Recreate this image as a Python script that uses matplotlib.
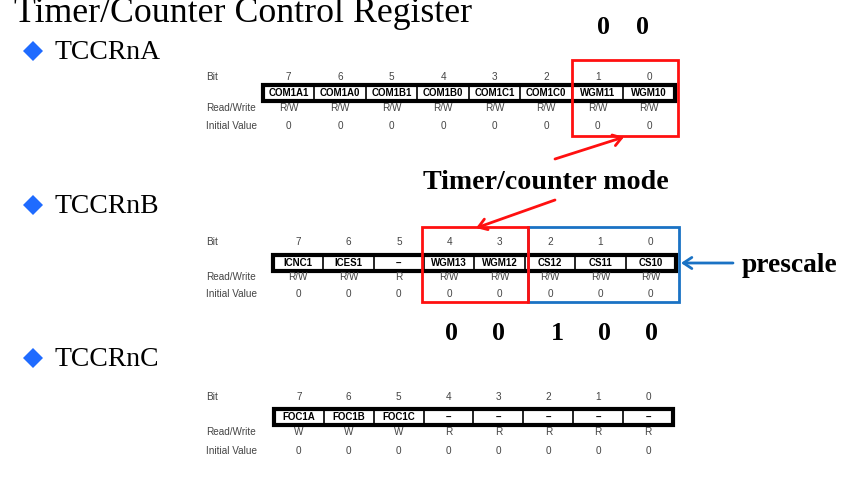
import matplotlib
matplotlib.use("Agg")
import matplotlib.pyplot as plt
from matplotlib.patches import Rectangle, FancyArrowPatch

# ---------------- data ----------------
bits = [7, 6, 5, 4, 3, 2, 1, 0]
reg_titles = ["TCCRnA", "TCCRnB", "TCCRnC"]
names_a = ["COM1A1", "COM1A0", "COM1B1", "COM1B0", "COM1C1", "COM1C0", "WGM11", "WGM10"]
names_b = ["ICNC1", "ICES1", "–", "WGM13", "WGM12", "CS12", "CS11", "CS10"]
names_c = ["FOC1A", "FOC1B", "FOC1C", "–", "–", "–", "–", "–"]
rw_a = ["R/W"] * 8
rw_b = ["R/W", "R/W", "R", "R/W", "R/W", "R/W", "R/W", "R/W"]
rw_c = ["W", "W", "W", "R", "R", "R", "R", "R"]
init_a = [0] * 8
init_b = [0] * 8
init_c = [0] * 8
wgm_a_values = ["0", "0"]          # WGM11, WGM10
b_values = ["0", "0", "1", "0", "0"]  # WGM13, WGM12, CS12, CS11, CS10
title = "Timer/Counter Control Register"
mode_label = "Timer/counter mode"
prescale_label = "prescale"

# ---------------- layout ----------------
W, H = 841, 492
fig = plt.figure(figsize=(W / 100, H / 100), dpi=100)
ax = fig.add_axes([0, 0, 1, 1])
ax.set_xlim(0, W)
ax.set_ylim(H, 0)
ax.axis("off")

def pt(px):
    return px * 0.72

SERIF = "Liberation Serif"
SANS = "Liberation Sans"
GRAY = "#444444"
RED = "#ff1010"
BLUE = "#1a72c4"
DIAMOND = "#1f6bff"

ax.text(14, 22, title, fontsize=pt(35.7), family=SERIF, ha="left", va="baseline", color="black")

def bullet(y, label):
    ax.plot([33], [y], marker="D", markersize=10, color=DIAMOND, markeredgewidth=0)
    ax.text(55, y + 8, label, fontsize=pt(27.6), family=SERIF, ha="left", va="baseline")

def register(names, rw, init, left, right, y_bit, y_top, y_bot, y_rw, y_init):
    n = len(names)
    pitch = (right - left) / n
    ax.text(206, y_bit, "Bit", fontsize=7.2, family=SANS, color=GRAY, ha="left", va="center")
    ax.text(206, y_rw, "Read/Write", fontsize=7.2, family=SANS, color=GRAY, ha="left", va="center")
    ax.text(206, y_init, "Initial Value", fontsize=7.2, family=SANS, color=GRAY, ha="left", va="center")
    ax.add_patch(Rectangle((left, y_top), right - left, y_bot - y_top, fill=False,
                           edgecolor="black", linewidth=3, zorder=3))
    for i in range(n):
        cx = left + pitch * (i + 0.5)
        if i > 0:
            x = left + pitch * i
            ax.plot([x, x], [y_top, y_bot], color="black", linewidth=1.2, zorder=3)
        ax.text(cx, y_bit, str(bits[i]), fontsize=7.2, family=SANS, color=GRAY, ha="center", va="center")
        ax.text(cx, (y_top + y_bot) / 2 + 0.5, names[i], fontsize=7, family=SANS,
                fontweight="bold", color="black", ha="center", va="center", zorder=4)
        ax.text(cx, y_rw, rw[i], fontsize=7.2, family=SANS, color=GRAY, ha="center", va="center")
        ax.text(cx, y_init, str(init[i]), fontsize=7.2, family=SANS, color=GRAY, ha="center", va="center")

bullet(51, reg_titles[0])
bullet(205, reg_titles[1])
bullet(358, reg_titles[2])

register(names_a, rw_a, init_a, 263, 675, 77, 85, 101, 108, 126)
register(names_b, rw_b, init_b, 273, 676, 242, 255, 271, 277, 294)
register(names_c, rw_c, init_c, 274, 673, 397, 409, 425, 432, 451)

# highlight boxes
ax.add_patch(Rectangle((572, 60), 106, 76, fill=False, edgecolor=RED, linewidth=2, zorder=5))
ax.add_patch(Rectangle((422, 227), 106, 75, fill=False, edgecolor=RED, linewidth=2, zorder=6))
ax.add_patch(Rectangle((528, 227), 151, 75, fill=False, edgecolor=BLUE, linewidth=2, zorder=5))

# bold annotations
for x, v in zip([604, 643], wgm_a_values):
    ax.text(x, 28, v, fontsize=pt(26), family=SERIF, fontweight="bold", ha="center", va="center")
for x, v in zip([452, 499, 557, 605, 652], b_values):
    ax.text(x, 333, v, fontsize=pt(26), family=SERIF, fontweight="bold", ha="center", va="center")

ax.text(423, 189, mode_label, fontsize=pt(28), family=SERIF, fontweight="bold", ha="left", va="baseline")
ax.text(742, 272, prescale_label, fontsize=pt(27.5), family=SERIF, fontweight="bold", ha="left", va="baseline")

# arrows
def arrow(p0, p1, color):
    ax.add_patch(FancyArrowPatch(p0, p1, arrowstyle="->,head_length=6,head_width=4",
                                 color=color, linewidth=2, mutation_scale=1, zorder=7,
                                 shrinkA=0, shrinkB=0))

arrow((555, 159), (624, 137), RED)
arrow((555, 200), (476, 228), RED)
arrow((733, 263), (681, 263), BLUE)

fig.savefig("out.png", dpi=100)
